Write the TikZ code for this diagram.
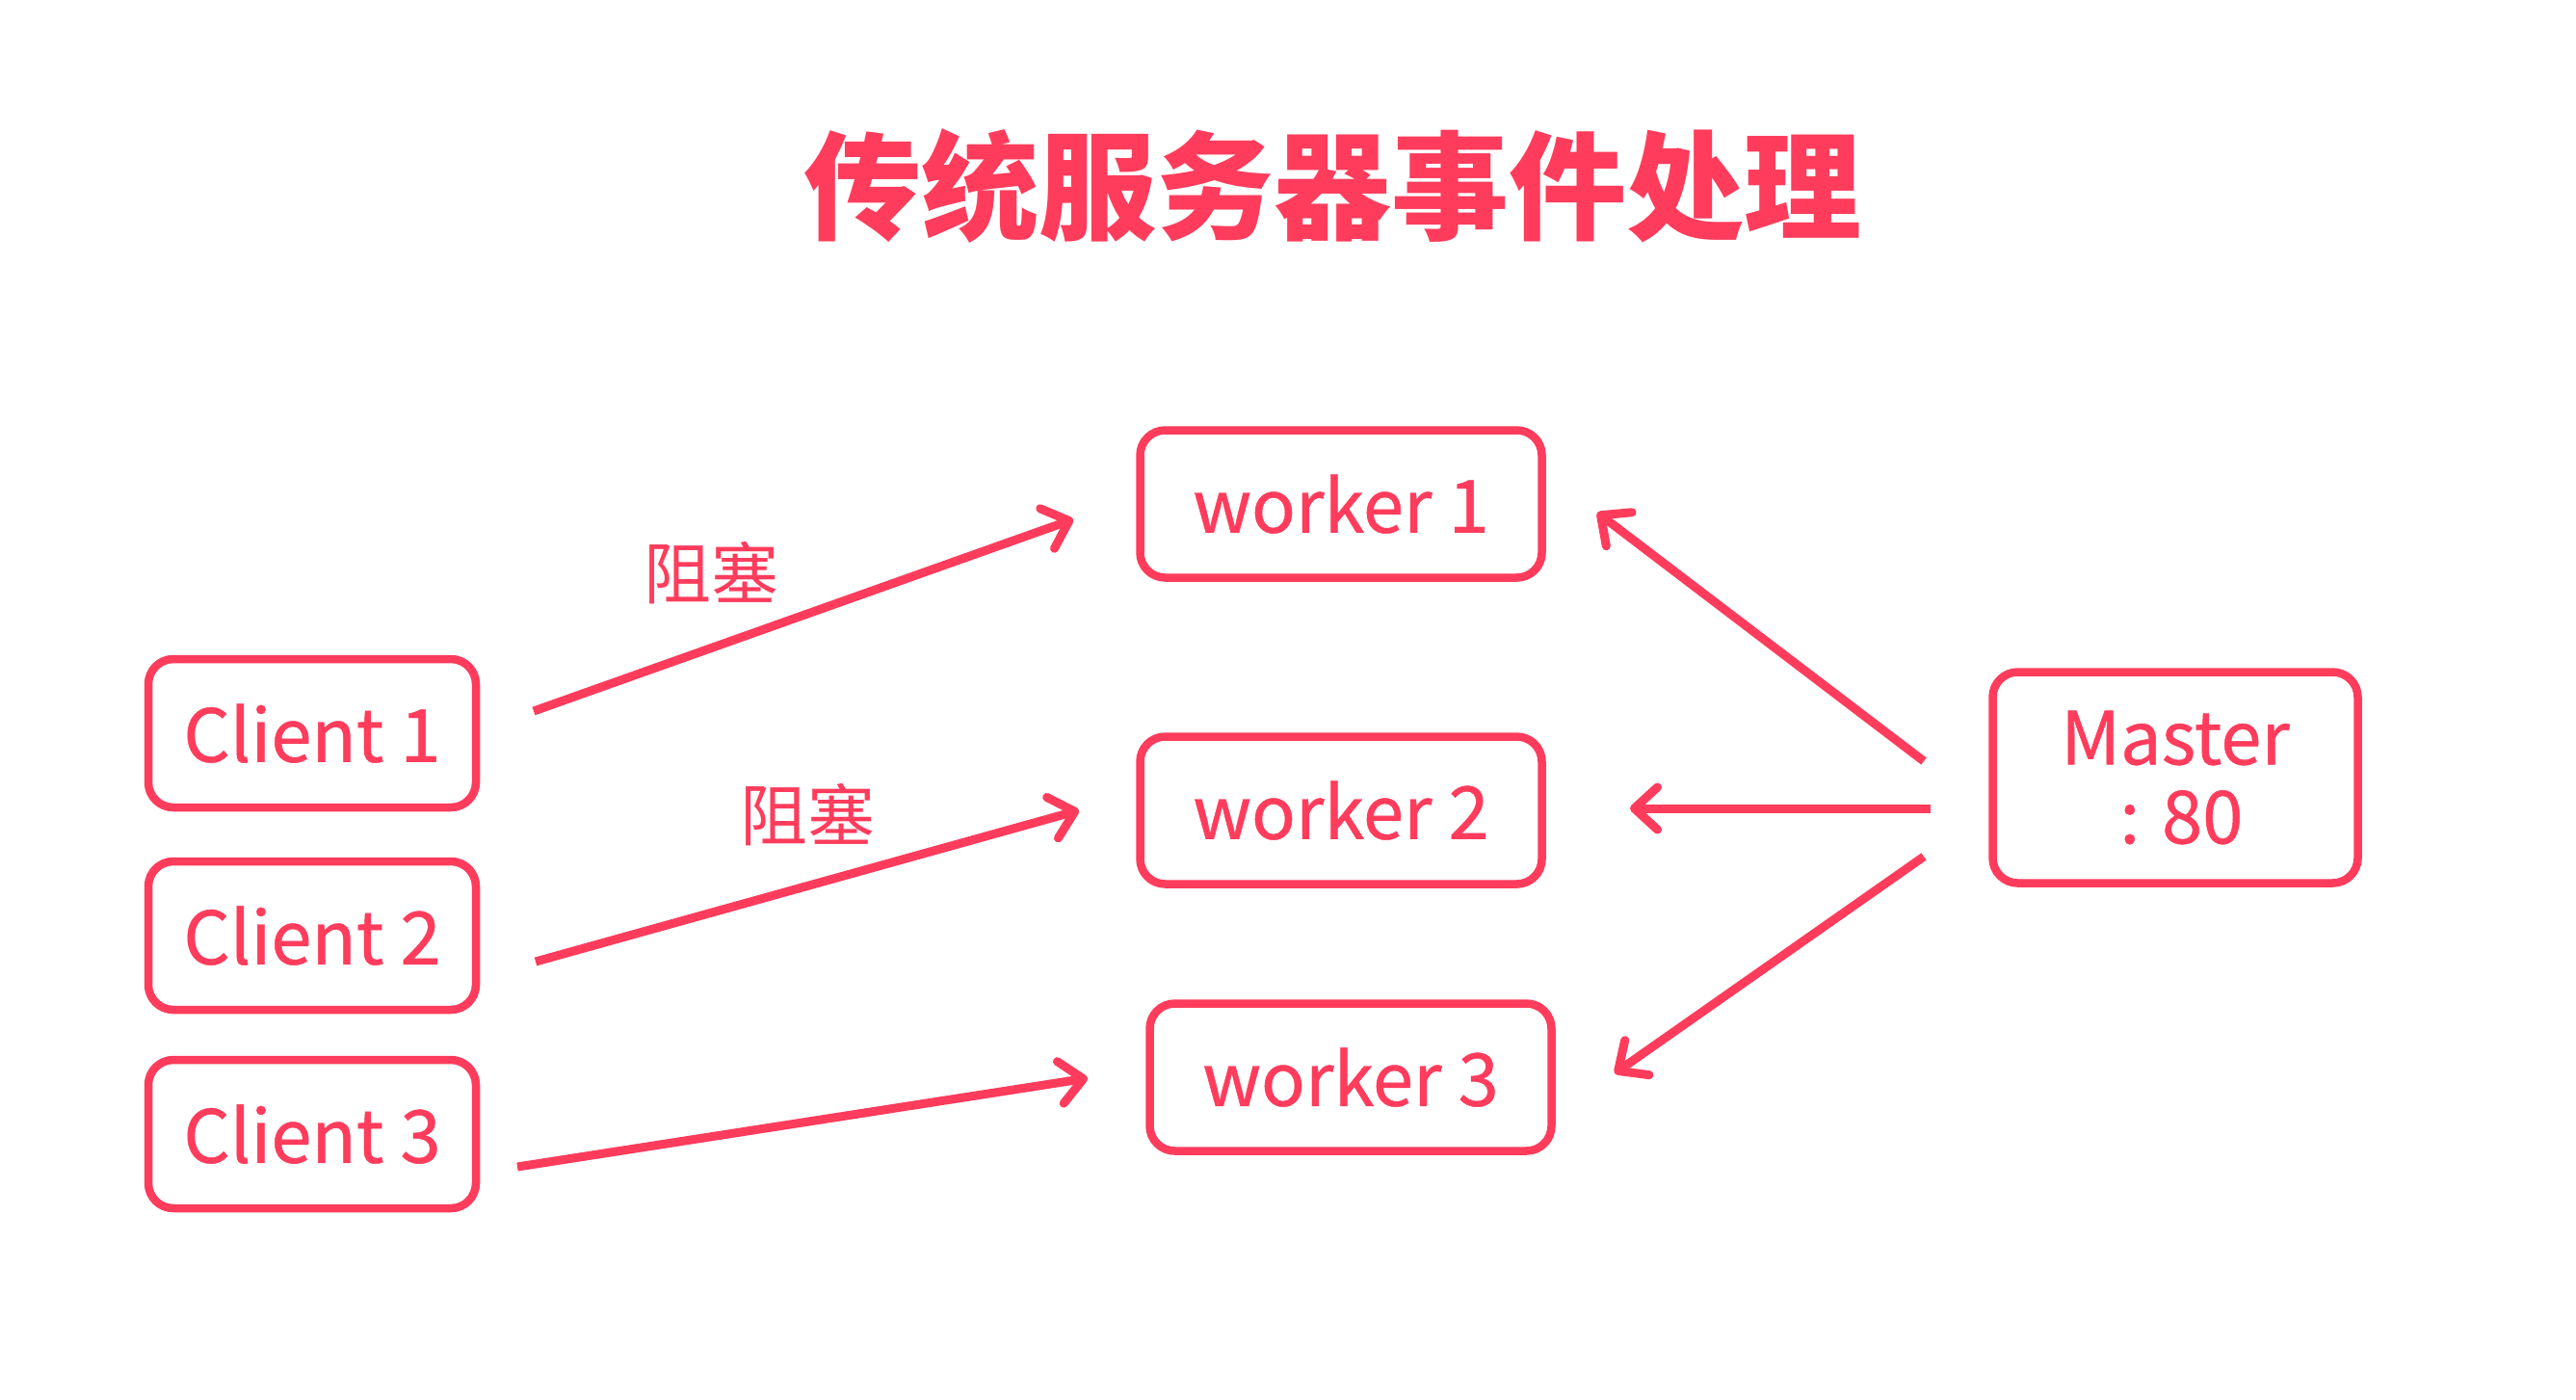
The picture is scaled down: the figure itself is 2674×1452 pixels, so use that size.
\documentclass[tikz,border=0pt]{standalone}
\usepackage{fontspec}
\setmainfont{Noto Sans CJK SC}[FakeBold=0.6]
\newfontfamily\cjk{Noto Sans CJK SC}
\usetikzlibrary{arrows.meta}
\definecolor{pinkred}{RGB}{255,60,92}
\begin{document}
\begin{tikzpicture}[x=1pt,y=-1pt,
  box/.style={draw=pinkred, line width=8.5pt, rounded corners=26pt, text=pinkred,
    font=\fontsize{76}{90}\selectfont, inner sep=0pt, align=center},
  conn/.style={draw=pinkred, line width=9pt,
    -{Straight Barb[length=24pt,width=44pt,line width=9pt,round]}},
  lbl/.style={text=pinkred, font=\cjk\fontsize{70}{80}\selectfont, inner sep=0pt}]
\useasboundingbox[fill=white] (0,0) rectangle (2674,1452);
% title
\node[text=pinkred, font=\cjk\bfseries\fontsize{122}{130}\selectfont, inner sep=0pt] (title) at (1383,193) {传统服务器事件处理};
% clients
\node[box, minimum width=340pt, minimum height=154pt] (c1) at (324,761) {Client 1};
\node[box, minimum width=340pt, minimum height=154pt] (c2) at (324,971) {Client 2};
\node[box, minimum width=340pt, minimum height=154pt] (c3) at (324,1177) {Client 3};
% workers
\node[box, minimum width=417pt, minimum height=153pt] (w1) at (1392,523) {worker 1};
\node[box, minimum width=417pt, minimum height=153pt] (w2) at (1392,841) {worker 2};
\node[box, minimum width=417pt, minimum height=153pt] (w3) at (1402,1118) {worker 3};
% master
\node[box, minimum width=379pt, minimum height=219pt, font=\fontsize{76}{84}\selectfont] (m) at (2258,807) {Master\\[-2pt]\,: 80};
% connector ends
\coordinate (a1s) at (554,738);  \coordinate (a1e) at (1114,539);
\coordinate (a2s) at (556,998);  \coordinate (a2e) at (1120,841);
\coordinate (a3s) at (537,1211); \coordinate (a3e) at (1129,1119);
\coordinate (b1s) at (1997,790); \coordinate (b1e) at (1658,532);
\coordinate (b2s) at (2004,839); \coordinate (b2e) at (1692,839);
\coordinate (b3s) at (1997,889); \coordinate (b3e) at (1676,1114);
\draw[conn] (a1s) -- (a1e);
\draw[conn] (a2s) -- (a2e);
\draw[conn] (a3s) -- (a3e);
\draw[conn] (b1s) -- (b1e);
\draw[conn] (b2s) -- (b2e);
\draw[conn] (b3s) -- (b3e);
% labels
\node[lbl] (l1) at (738,595) {阻塞};
\node[lbl] (l2) at (838,846) {阻塞};
\end{tikzpicture}
\end{document}
